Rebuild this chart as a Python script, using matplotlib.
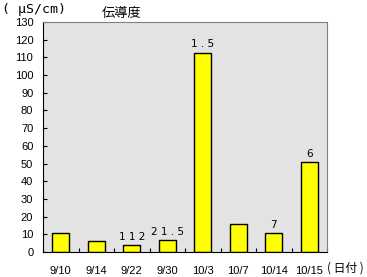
import matplotlib.pyplot as plt
import numpy as np

plt.rcParams['font.family'] = ['Noto Sans CJK JP', 'DejaVu Sans']

dates = ['9/10', '9/14', '9/22', '9/30', '10/3', '10/7', '10/14', '10/15']
conductivity = [10.6, 6.0, 3.8, 6.6, 112.5, 15.8, 10.6, 50.8]
bar_labels = ['', '', '112', '21.5', '1.5', '', '7', '6']

fig = plt.figure(figsize=(3.67, 2.77), dpi=100)
ax = fig.add_axes([43 / 367, 25 / 277, 284 / 367, 230 / 277])
ax.set_facecolor('#e3e3e3')

x = np.arange(len(dates))
ax.bar(x, conductivity, width=0.48, color='#ffff00', edgecolor='black', linewidth=1.0, zorder=2)

for xi, v, lab in zip(x, conductivity, bar_labels):
    if lab:
        ax.text(xi, v + 2, ' '.join(lab), ha='center', va='bottom', fontsize=7.5,
                family='DejaVu Sans')

ax.set_xlim(-0.5, len(dates) - 0.5)
ax.set_ylim(0, 130)
ax.set_yticks(np.arange(0, 131, 10))
ax.set_xticks(x)
ax.set_xticklabels(dates)
ax.set_xticks(np.arange(-0.5, len(dates) - 0.4, 1), minor=True)
ax.tick_params(axis='x', which='major', length=0, pad=10)
ax.tick_params(axis='x', which='minor', direction='in', length=3, width=0.8)
ax.tick_params(axis='y', direction='in', length=3, width=0.8, pad=7)
for lab in ax.get_xticklabels() + ax.get_yticklabels():
    lab.set_family('Liberation Sans')
    lab.set_fontsize(8)

for side in ['top', 'right']:
    ax.spines[side].set_color('#808080')
for side in ['left', 'bottom']:
    ax.spines[side].set_color('black')

fig.text(2 / 367, 1 - 10 / 277, '( μS/cm)', ha='left', va='center', fontsize=9.5,
         family='DejaVu Sans Mono')
fig.text(122 / 367, 1 - 13 / 277, '伝導度', ha='center', va='center', fontsize=9.5)
fig.text(327 / 367, 1 - 268 / 277, '( 日付 )', ha='left', va='center', fontsize=8.5)

fig.savefig('out.png', dpi=100)
